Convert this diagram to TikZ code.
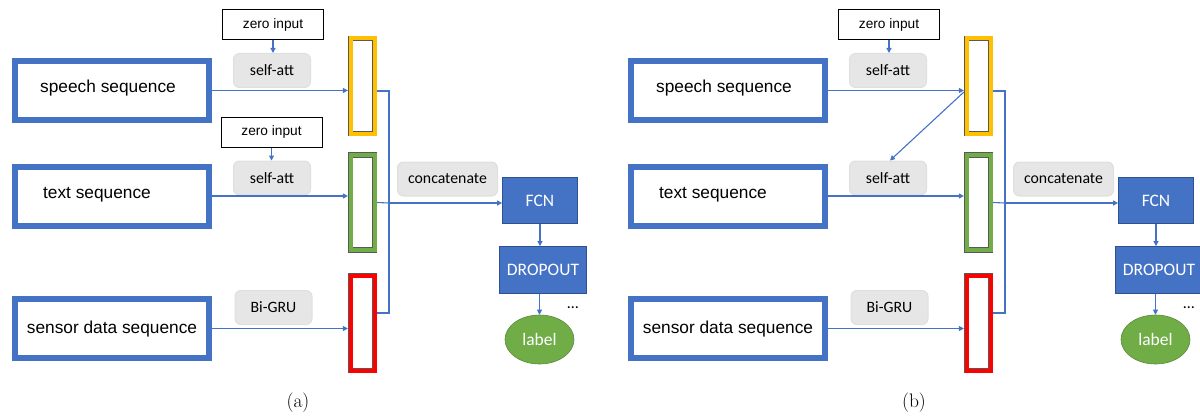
\documentclass[tikz,border=0pt]{standalone}
\usepackage{fontspec}
\usepackage{xcolor}
\newfontfamily\arialfont{Liberation Sans}
\newfontfamily\califont{Carlito}
\usetikzlibrary{arrows.meta}
\usetikzlibrary{shapes.geometric}

\definecolor{pptblue}{HTML}{4472C4}
\definecolor{pptdarkblue}{HTML}{2F528F}
\definecolor{pptyellow}{HTML}{FFC000}
\definecolor{pptgreen}{HTML}{70AD47}
\definecolor{pptred}{HTML}{FF0000}
\definecolor{pptgray}{HTML}{E7E6E6}

\tikzset{
  seqbox/.style={draw=pptblue, line width=6pt, minimum width=194pt, minimum height=59pt, inner sep=0pt},
  seqtext/.style={font=\arialfont\fontsize{17.3}{20}\selectfont, inner sep=0pt},
  zerobox/.style={draw=black, line width=1pt, minimum width=101pt, minimum height=30pt,
    font=\arialfont\fontsize{13.7}{16}\selectfont, inner sep=0pt},
  opbox/.style={draw=gray!25, fill=pptgray, rounded corners=6pt, line width=1pt,
    minimum width=77pt, minimum height=34pt, font=\califont\fontsize{15.8}{18}\selectfont, inner sep=0pt},
  vecbar/.style={draw=gray!70!black, line width=0.6pt, double=#1, double distance=4pt,
    minimum width=24pt, minimum height=95pt, inner sep=0pt, outer sep=2.6pt},
  layer/.style={draw=pptdarkblue, fill=pptblue, line width=0.8pt, text=white,
    font=\califont\fontsize{17.5}{20}\selectfont, inner sep=0pt},
  flow/.style={draw=pptblue, line width=1.1pt, -{Triangle[length=5pt,width=5pt]}},
  link/.style={draw=pptblue, line width=1.1pt},
}

\begin{document}
\begin{tikzpicture}[x=1pt,y=-1pt]
    \useasboundingbox (0,0) rectangle (1200,420);
    \clip (0,0) rectangle (1200,420);
    % both panels share the same layout
\foreach \pn/\dx in {a/0,b/616}{
\begin{scope}[xshift=\dx pt]
    % input sequences
    \node[seqbox] (speech\pn) at (112,90.5) {};
    \node[seqbox] (text\pn) at (112,196) {};
    \node[seqbox] (sensor\pn) at (112,328.5) {};
    \node[seqtext] (speecht\pn) at (108,88) {speech sequence};
    \node[seqtext] (textt\pn) at (97,195) {text sequence};
    \node[seqtext] (sensort\pn) at (112,329) {sensor data sequence};
    % encoders
    \node[zerobox] (zeroa\pn) at (273,24.5) {zero input};
    \node[opbox] (saa\pn) at (272,70.5) {self-att};
    \node[opbox] (sab\pn) at (272,178) {self-att};
    \node[opbox] (gru\pn) at (273.5,307.5) {Bi-GRU};
    % feature vectors
    \node[vecbar=pptyellow] (ybar\pn) at (362.5,86) {};
    \node[vecbar=pptgreen] (gbar\pn) at (362.5,202.5) {};
    \node[vecbar=pptred] (rbar\pn) at (362.5,323) {};
    % classifier
    \node[opbox, minimum width=100pt] (concat\pn) at (447.5,179) {concatenate};
    \node[layer, minimum width=75pt, minimum height=46pt] (fcn\pn) at (540,200.5) {FCN};
    \node[layer, minimum width=87pt, minimum height=47pt] (drop\pn) at (543,270) {DROPOUT};
    \node[ellipse, fill=pptgreen, draw=pptgreen!80!black, line width=0.6pt, text=white,
      minimum width=69pt, minimum height=49pt, inner sep=0pt,
      font=\califont\fontsize{17.5}{20}\selectfont] (label\pn) at (539.5,339.5) {label};
    \node[font=\califont\fontsize{16}{18}\selectfont] (dots\pn) at (573,308) {\dots};
    \coordinate (bus\pn) at (389,203);
    % arrows
    \draw[flow] (zeroa\pn.south) -- (zeroa\pn.south |- saa\pn.north);
    \draw[flow] (speech\pn.east) -- (speech\pn.east -| ybar\pn.west);
    \draw[flow] (text\pn.east) -- (text\pn.east -| gbar\pn.west);
    \draw[flow] (sensor\pn.east) -- (sensor\pn.east -| rbar\pn.west);
    \draw[link] ([yshift=-5pt]ybar\pn.east) -| (bus\pn);
    \draw[link] (gbar\pn.east) -- (bus\pn);
    \draw[link] ([yshift=10pt]rbar\pn.east) -| (bus\pn);
    \draw[flow] (bus\pn) -- (bus\pn -| fcn\pn.west);
    \draw[flow] (fcn\pn.south) -- (fcn\pn.south |- drop\pn.north);
    \draw[flow] (label\pn.north |- drop\pn.south) -- (label\pn.north);
    \node[font=\fontsize{19.5}{22}\selectfont] (cap\pn) at (298,403) {(\pn)};
\end{scope}
}
    % (a): text branch gets its own zero input
    \node[zerobox] (zerob) at (271.5,132) {zero input};
    \draw[flow] (zerob.south) -- (zerob.south |- saba.north);
    % (b): speech vector feeds the text self-attention
    \draw[flow] ([yshift=-6pt]ybarb.west) -- ([xshift=2pt]sabb.north);
\end{tikzpicture}
\end{document}
